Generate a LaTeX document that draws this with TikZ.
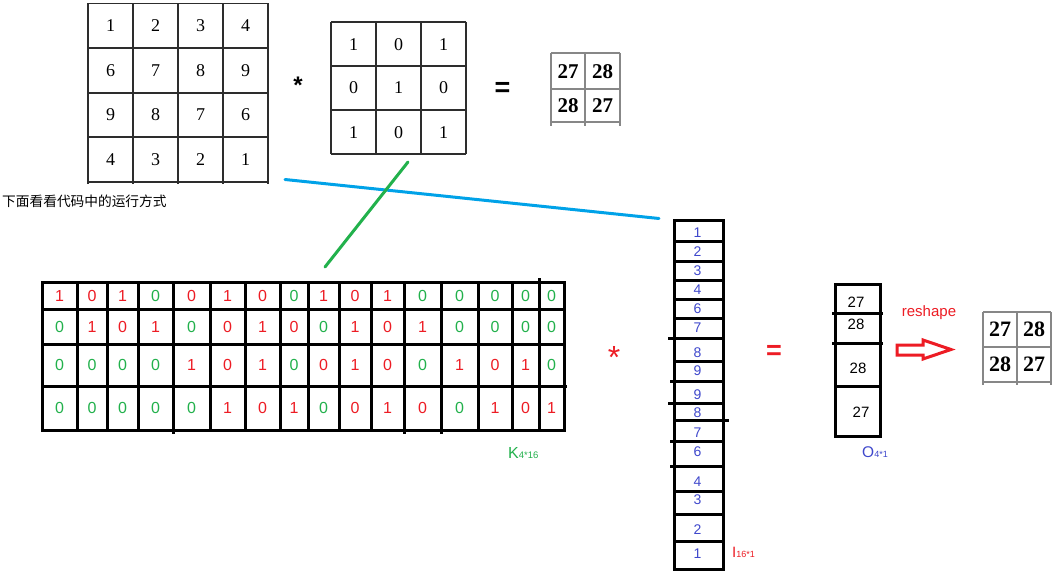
\documentclass[tikz,border=0pt]{standalone}
\usepackage{fontspec}
\setmainfont{Liberation Serif}
\setsansfont{Liberation Sans}
\newfontfamily\cjkfont{Noto Sans CJK SC}
\definecolor{kr}{RGB}{237,28,36}
\definecolor{kg}{RGB}{34,177,76}
\definecolor{kb}{RGB}{0,162,232}
\definecolor{ki}{RGB}{63,72,204}
\definecolor{tg}{RGB}{45,45,45}
\definecolor{lg}{RGB}{135,135,135}
\newcommand\KXc[1]{\ifcase#1\or59.5\or92\or122.5\or155.5\or191.5\or227.5\or262.5\or294\or323.5\or355\or387.5\or422.5\or459.5\or495\or525.5\or551.5\fi}
\newcommand\KmatRow[3]{%
  \foreach \v/\c [count=\i] in {#3} {%
    \node[kval,text=\c] (k#1x\i) at (\KXc{\i},#2) {\v};%
  }%
}
\begin{document}
\begin{tikzpicture}[x=1pt,y=-1pt,
  tgrid/.style={draw=tg,line width=1.2pt},
  lgrid/.style={draw=lg,line width=1.3pt},
  bline/.style={draw=black,line width=3pt},
  snum/.style={inner sep=0pt,font=\fontsize{18}{18}\selectfont},
  bnum/.style={inner sep=0pt,font=\fontsize{21}{21}\selectfont\bfseries},
  kval/.style={inner sep=0pt,font=\sffamily\fontsize{16}{16}\selectfont},
  ival/.style={inner sep=0pt,font=\sffamily\fontsize{14}{14}\selectfont,text=ki},
  oval/.style={inner sep=0pt,font=\sffamily\fontsize{15}{15}\selectfont},
  conn/.style={line width=3pt,line cap=round},
  sym/.style={inner sep=0pt,anchor=base},
  lab/.style={inner sep=0pt,anchor=base west},
]
\useasboundingbox (0,0) rectangle (1055,575);
\fill[white] (0,0) rectangle (1055,575);

% ---- top 4x4 input
\foreach \x in {88,133,178,223,268} \draw[tgrid] (\x,3.5) -- (\x,184);
\foreach \y in {3.5,48,93,137,182} \draw[tgrid] (88,\y) -- (268,\y);
\foreach \yy/\a/\b/\c/\d [count=\r] in {25.75/1/2/3/4,70.5/6/7/8/9,115/9/8/7/6,159.5/4/3/2/1} {
  \node[snum] (a\r x1) at (110.5,\yy) {\a};
  \node[snum] (a\r x2) at (155.5,\yy) {\b};
  \node[snum] (a\r x3) at (200.5,\yy) {\c};
  \node[snum] (a\r x4) at (245.5,\yy) {\d};
}
\node[anchor=west,inner sep=0pt,font=\cjkfont\fontsize{13.7}{14}\selectfont] (caption) at (2,201.5) {下面看看代码中的运行方式};

% ---- operators top
\node[sym,font=\sffamily\bfseries\fontsize{24}{24}\selectfont] (star1) at (298,94) {*};
\node[sym,font=\sffamily\bfseries\fontsize{27}{27}\selectfont] (eq1) at (502.5,96.5) {=};

% ---- 3x3 kernel
\foreach \x in {331,376,421,466} \draw[tgrid] (\x,22) -- (\x,154);
\foreach \y in {22,66,110,154} \draw[tgrid] (331,\y) -- (466,\y);
\foreach \yy/\a/\b/\c [count=\r] in {44.5/1/0/1,88/0/1/0,132.5/1/0/1} {
  \node[snum] (w\r x1) at (353.5,\yy) {\a};
  \node[snum] (w\r x2) at (398.5,\yy) {\b};
  \node[snum] (w\r x3) at (443.5,\yy) {\c};
}

% ---- top 2x2 result
\foreach \x in {551,585,620} \draw[lgrid] (\x,53) -- (\x,126);
\foreach \y in {53,89,122} \draw[lgrid] (551,\y) -- (620,\y);
\node[bnum] (r1x1) at (568,71.5) {27};
\node[bnum] (r1x2) at (602.5,71.5) {28};
\node[bnum] (r2x1) at (568,106) {28};
\node[bnum] (r2x2) at (602.5,106) {27};

% ---- connectors
\coordinate (blA) at (285,179.5);
\coordinate (blB) at (659,218.5);
\coordinate (grA) at (408,162);
\coordinate (grB) at (325,267);
\draw[conn,kb] (blA) -- (blB);
\draw[conn,kg] (grA) -- (grB);

% ---- K matrix 4x16
\foreach \x in {77,107,138,173,210,245,280,308,339,371,404,441,478,512,539} \draw[bline] (\x,282) -- (\x,430);
\foreach \y in {309,344,386} \draw[bline] (42,\y) -- (564,\y);
\draw[bline] (564,386) -- (567,386);
\draw[bline] (173,430) -- (173,434);
\draw[bline] (404,430) -- (404,434);
\draw[bline] (441,430) -- (441,434);
\draw[bline] (539,282) -- (539,278);
\draw[bline,line cap=rect] (42,282) rectangle (564,430);
\KmatRow{1}{296}{1/kr,0/kr,1/kr,0/kg,0/kr,1/kr,0/kr,0/kg,1/kr,0/kr,1/kr,0/kg,0/kg,0/kg,0/kg,0/kg}
\KmatRow{2}{327}{0/kg,1/kr,0/kr,1/kr,0/kg,0/kr,1/kr,0/kr,0/kg,1/kr,0/kr,1/kr,0/kg,0/kg,0/kg,0/kg}
\KmatRow{3}{365}{0/kg,0/kg,0/kg,0/kg,1/kr,0/kr,1/kr,0/kg,0/kr,1/kr,0/kr,0/kg,1/kr,0/kr,1/kr,0/kg}
\KmatRow{4}{408}{0/kg,0/kg,0/kg,0/kg,0/kg,1/kr,0/kr,1/kr,0/kg,0/kr,1/kr,0/kr,0/kg,1/kr,0/kr,1/kr}
\node[lab,text=kg,font=\sffamily\fontsize{16}{16}\selectfont] (klabel) at (508,458) {K{\fontsize{9.5}{10}\selectfont 4*16}};

% ---- red * and =
\node[sym,text=kr,font=\sffamily\fontsize{32}{32}\selectfont] (star2) at (614,368) {*};
\node[sym,text=kr,font=\sffamily\bfseries\fontsize{27}{27}\selectfont] (eq2) at (774,359) {=};

% ---- I column 16x1
\foreach \y in {241.7,261.7,280.7,299.3,318.3,338.3,361.7,381.7,403.3,420.7,441.7,466,491,514.3,541} \draw[bline] (674,\y) -- (723,\y);
\draw[bline] (668,338.3) -- (674,338.3);
\draw[bline] (668,403.3) -- (674,403.3);
\draw[bline] (670,381.7) -- (674,381.7);
\draw[bline] (670,441.7) -- (674,441.7);
\draw[bline] (670,466) -- (674,466);
\draw[bline] (723,420.7) -- (729,420.7);
\draw[bline,line cap=rect] (674,220) rectangle (723,569);
\foreach \y/\v [count=\i] in {232.7/1,251.7/2,270.7/3,290/4,309/6,327.5/7,352.7/8,371/9,395/9,413/8,432.7/7,451.7/6,481.7/4,500/3,530/2,553.3/1}
  \node[ival] (i\i) at (697.5,\y) {\v};
\node[lab,text=kr,font=\sffamily\fontsize{15}{15}\selectfont] (ilabel) at (732,557) {I{\fontsize{9}{10}\selectfont 16*1}};

% ---- O column 4x1
\draw[bline] (832,313) -- (883,313);
\draw[bline] (832,343) -- (883,343);
\draw[bline] (835,386) -- (880,386);
\draw[bline,line cap=rect] (835,284) rectangle (880,436);
\node[oval] (o1) at (856,302) {27};
\node[oval] (o2) at (856,324) {28};
\node[oval] (o3) at (858,368) {28};
\node[oval] (o4) at (861,412) {27};
\node[lab,text=ki,font=\sffamily\fontsize{15.5}{16}\selectfont] (olabel) at (862,457) {O{\fontsize{9}{10}\selectfont 4*1}};

% ---- reshape arrow
\node[text=kr,inner sep=0pt,font=\sffamily\fontsize{15}{15}\selectfont] (reshape) at (929,313) {reshape};
\draw[kr,line width=3pt,fill=white,line join=miter] (897,345) -- (923,345) -- (923,340) -- (951,349.5) -- (923,359) -- (923,355) -- (897,355) -- cycle;

% ---- right 2x2 result
\foreach \x in {983,1017,1051} \draw[lgrid] (\x,312) -- (\x,385);
\foreach \y in {312,347,382} \draw[lgrid] (983,\y) -- (1051,\y);
\node[bnum,font=\fontsize{22}{22}\selectfont\bfseries] (s1x1) at (1000,329.5) {27};
\node[bnum,font=\fontsize{22}{22}\selectfont\bfseries] (s1x2) at (1034,329.5) {28};
\node[bnum,font=\fontsize{22}{22}\selectfont\bfseries] (s2x1) at (1000,364.5) {28};
\node[bnum,font=\fontsize{22}{22}\selectfont\bfseries] (s2x2) at (1034,364.5) {27};
\end{tikzpicture}
\end{document}
